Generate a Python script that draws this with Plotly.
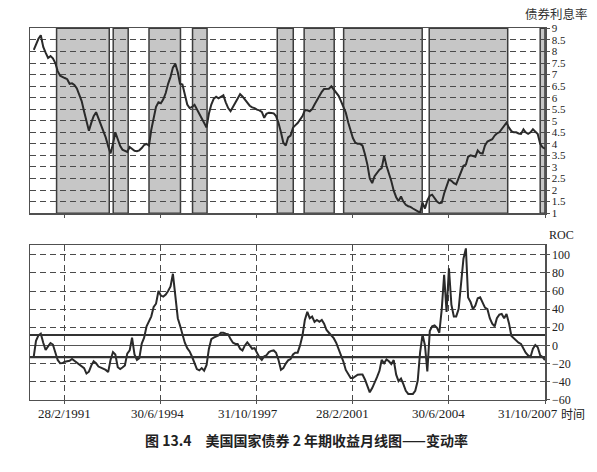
import pandas as pd
import plotly.graph_objects as go

# ---------------- data (monthly, Jan 1990 .. Oct 2007) ----------------
start_month = "1990-01-31"

yield_2y = [
    # 1990
    8.07, 8.3, 8.55, 8.7, 8.2, 7.95, 7.72, 7.8, 7.7, 7.5, 7.15, 6.95,
    # 1991
    6.88, 6.85, 6.8, 6.6, 6.62, 6.55, 6.4, 6.1, 5.85, 5.4, 5.0, 4.57,
    # 1992
    4.92, 5.2, 5.37, 5.1, 4.8, 4.5, 4.28, 3.9, 3.58, 4.0, 4.5, 4.2,
    # 1993
    3.9, 3.75, 3.7, 3.65, 3.86, 3.8, 3.7, 3.68, 3.72, 3.82, 3.95, 4.0,
    # 1994
    3.93, 4.6, 5.2, 5.6, 5.8, 5.76, 5.93, 6.2, 6.6, 6.9, 7.3, 7.47,
    # 1995
    7.1, 6.6, 6.57, 6.1, 5.7, 5.55, 5.6, 5.69, 5.5, 5.3, 5.05, 4.85,
    # 1996
    4.71, 5.3, 5.7, 5.95, 6.04, 5.97, 6.05, 6.1, 5.8, 5.55, 5.41, 5.6,
    # 1997
    5.8, 5.97, 6.15, 6.05, 5.9, 5.8, 5.65, 5.58, 5.55, 5.48, 5.45, 5.38,
    # 1998
    5.13, 5.3, 5.35, 5.34, 5.32, 5.2, 4.9, 4.5, 4.05, 3.93, 4.28, 4.36,
    # 1999
    4.7, 4.8, 4.9, 5.05, 5.2, 5.45, 5.45, 5.41, 5.5, 5.7, 5.9, 6.05,
    # 2000
    6.25, 6.38, 6.4, 6.39, 6.49, 6.35, 6.25, 6.08, 5.85, 5.6, 5.35, 4.92,
    # 2001
    4.5, 4.25, 4.05, 4.0, 4.0, 3.92, 3.55, 3.1, 2.5, 2.3, 2.6, 2.75,
    # 2002
    2.88, 2.95, 3.48, 3.05, 2.74, 2.39, 1.97, 1.69, 1.52, 1.72, 1.5, 1.36,
    # 2003
    1.3, 1.27, 1.2, 1.15, 1.1, 1.02, 1.45, 1.2, 1.55, 1.75, 1.8, 1.62,
    # 2004
    1.5, 1.43, 1.45, 1.85, 2.15, 2.46, 2.4, 2.3, 2.25, 2.5, 2.81, 3.05,
    # 2005
    3.1, 3.44, 3.5, 3.47, 3.44, 3.72, 3.6, 3.58, 3.93, 4.1, 4.14, 4.2,
    # 2006
    4.36, 4.45, 4.5, 4.63, 4.8, 4.92, 4.7, 4.55, 4.5, 4.5, 4.45, 4.43,
    # 2007
    4.63, 4.5, 4.43, 4.5, 4.63, 4.55, 4.43, 4.0, 3.85, 3.79,
]

roc = [
    # 1990
    -12, 5, 11, 13, 3, -5, -1, 2.7, 1, -8, -16, -19.7,
    # 1991
    -19.5, -18, -17.3, -17, -15, -17, -19, -21.5, -23, -25, -31, -29,
    # 1992
    -22, -17.5, -19.7, -23.3, -24.5, -25.5, -27, -29.4, -16, -7.3, -10, -24,
    # 1993
    -26, -24.4, -22, -9, -5.5, 8.6, -10, -16, -14, 2, 8.6, 21,
    # 1994
    27, 31.8, 42.4, 46, 60, 55, 53.8, 56, 60, 65, 79, 52,
    # 1995
    30, 22, 11, 3, -3, -6.6, -12.5, -19, -26, -27.5, -25, -27.9,
    # 1996
    -21.5, -4, 6.9, 8.6, 9.5, 11, 14, 14, 13, 12.2, 7, 3,
    # 1997
    1.6, 1.6, -3.7, -5.5, 0, 3.3, 0, -3.7, -3, -9, -13, -16,
    # 1998
    -12, -10.9, -7.3, -6, -5.5, -8, -16, -26.9, -25, -20, -16.5, -15,
    # 1999
    -10, -8, -8, 0, 11, 28, 37, 30, 31.8, 26, 28, 26,
    # 2000
    28, 24, 17, 14, 10.4, 8, 3, -4, -10, -18, -27, -32.2,
    # 2001
    -36, -36, -34, -32.2, -32, -32, -37.5, -44, -51.7, -47, -40, -35,
    # 2002
    -28, -16, -19.7, -15.5, -17.5, -20.5, -16.2, -32.2, -39.3, -36.5, -42.6, -50,
    # 2003
    -53.5, -53.5, -53.5, -50, -39, -8, 12, 0, -28.6, 15.8, 21, 22,
    # 2004
    19.4, 14, 40, 78, 37, 85, 45, 32, 32, 40, 67.3, 95.7,
    # 2005
    107, 53, 48, 40, 44, 52, 53, 48, 41.7, 40, 30, 24,
    # 2006
    21, 30, 34, 34.7, 30, 34.7, 24.6, 10.4, 8, 5, 3, 1.6,
    # 2007
    -4, -8, -11, -12.7, -3.7, 0.5, -2, -10.9, -12.7, -16.2,
]

# shaded periods (start, end)
shade_periods = [
    ("1990-11-16", "1992-09-14"),
    ("1992-11-03", "1993-05-12"),
    ("1994-01-31", "1995-03-06"),
    ("1995-08-06", "1996-02-06"),
    ("1998-07-15", "1999-02-03"),
    ("1999-06-21", "2000-07-06"),
    ("2000-11-03", "2003-07-27"),
    ("2003-10-24", "2006-07-15"),
    ("2007-08-31", "2007-10-31"),
]

tick_dates = ["1991-02-28", "1994-06-30", "1997-10-31",
              "2001-02-28", "2004-06-30", "2007-10-31"]
tick_labels = ["28/2/1991", "30/6/1994", "31/10/1997",
               "28/2/2001", "30/6/2004", "31/10/2007"]

yield_ticks = [1, 1.5, 2, 2.5, 3, 3.5, 4, 4.5, 5, 5.5, 6, 6.5, 7, 7.5, 8, 8.5, 9]
roc_ticks = [-60, -40, -20, 0, 20, 40, 60, 80, 100]
roc_bands = [11.5, -13]

dates = pd.date_range(start_month, periods=len(yield_2y), freq="ME")

# ---------------- figure ----------------
W, H = 597, 472
ML, MR = 30, 52
PW = W - ML - MR

def px_x(p):
    return (p - ML) / PW

def px_y(p):
    return 1 - p / H

LINE = "#2a2a2a"
FRAME = "#505050"
GRID = "#4a4a4a"
SERIF = "Liberation Serif, Times New Roman, DejaVu Serif, serif"
CJK = "Noto Sans CJK SC"

fig = go.Figure()
fig.add_trace(go.Scatter(x=dates, y=yield_2y, mode="lines",
                         line=dict(color=LINE, width=2), xaxis="x", yaxis="y",
                         showlegend=False, hoverinfo="skip"))
fig.add_trace(go.Scatter(x=dates, y=roc, mode="lines",
                         line=dict(color=LINE, width=2), xaxis="x2", yaxis="y2",
                         showlegend=False, hoverinfo="skip"))

shapes = []
for s, e in shade_periods:
    shapes.append(dict(type="rect", xref="x", yref="y domain", x0=s, x1=e,
                       y0=0, y1=1, fillcolor="#c6c6c6",
                       line=dict(color="#3c3c3c", width=1.5), layer="below"))
for b in roc_bands:
    shapes.append(dict(type="line", xref="x2 domain", yref="y2", x0=0, x1=1,
                       y0=b, y1=b, line=dict(color="#333333", width=2.2)))
fig.update_layout(shapes=shapes)

xrange = ["1989-12-14", "2007-10-31"]
top_dom = [px_y(213), px_y(23)]
bot_dom = [px_y(405), px_y(246)]

common_axis = dict(showline=True, mirror=True, linecolor=FRAME, linewidth=1.5)

fig.update_layout(
    width=W, height=H,
    margin=dict(l=ML, r=MR, t=0, b=0),
    paper_bgcolor="white", plot_bgcolor="white",
    xaxis=dict(domain=[0, 1], type="date", range=xrange, anchor="y",
               tickvals=tick_dates, showticklabels=False, ticks="outside",
               ticklen=3, tickcolor=FRAME, showgrid=False, zeroline=False,
               **common_axis),
    yaxis=dict(domain=top_dom, range=[1, 9], side="right", anchor="x",
               tickvals=yield_ticks, ticktext=[f"{v:g}" for v in yield_ticks],
               ticks="outside", ticklen=3, tickcolor=FRAME,
               tickfont=dict(family=SERIF, size=11, color="#222"),
               showgrid=True, gridcolor=GRID, gridwidth=1, griddash="6px,4px",
               zeroline=False, **common_axis),
    xaxis2=dict(domain=[0, 1], type="date", range=xrange, anchor="y2",
                tickvals=tick_dates, showticklabels=False, ticks="outside",
                ticklen=3, tickcolor=FRAME, showgrid=True, gridcolor=GRID,
                gridwidth=1, griddash="6px,4px", zeroline=False,
                **common_axis),
    yaxis2=dict(domain=bot_dom, range=[-60, 110.5], side="right", anchor="x2",
                tickvals=roc_ticks,
                ticktext=[str(v).replace("-", "\u2212") for v in roc_ticks],
                ticks="outside", ticklen=3, tickcolor=FRAME,
                tickfont=dict(family=SERIF, size=12, color="#222"),
                showgrid=True, gridcolor=GRID, gridwidth=1, griddash="6px,4px",
                zeroline=True, zerolinecolor="#555555", zerolinewidth=1,
                **common_axis),
)

ann = []
label_px = [64, 157, 248, 342, 438, 528]
for lbl, p in zip(tick_labels, label_px):
    ann.append(dict(text=lbl, x=px_x(p), y=px_y(419), xref="paper", yref="paper",
                    showarrow=False, xanchor="center", yanchor="middle",
                    font=dict(family=SERIF, size=13, color="#222")))
ann.append(dict(text="时间", x=px_x(573), y=px_y(419), xref="paper", yref="paper",
                showarrow=False, xanchor="center", yanchor="middle",
                font=dict(family=CJK, size=12, color="#222")))
ann.append(dict(text="债券利息率", x=px_x(590), y=px_y(8), xref="paper", yref="paper",
                showarrow=False, xanchor="right", yanchor="middle",
                font=dict(family=CJK, size=12.5, color="#333")))
ann.append(dict(text="ROC", x=px_x(561), y=px_y(235), xref="paper", yref="paper",
                showarrow=False, xanchor="center", yanchor="middle",
                font=dict(family=SERIF, size=12, color="#222")))
ann.append(dict(text="<b>图 13.4　美国国家债券 2 年期收益月线图——变动率</b>",
                x=px_x(306), y=px_y(446), xref="paper", yref="paper",
                showarrow=False, xanchor="center", yanchor="middle",
                font=dict(family=CJK, size=14, color="#222")))
fig.update_layout(annotations=ann)

fig.write_html("out.html",
               config={"displayModeBar": False, "staticPlot": True},
               post_script="document.body.style.margin='0';"
                           "document.body.style.padding='0';")
